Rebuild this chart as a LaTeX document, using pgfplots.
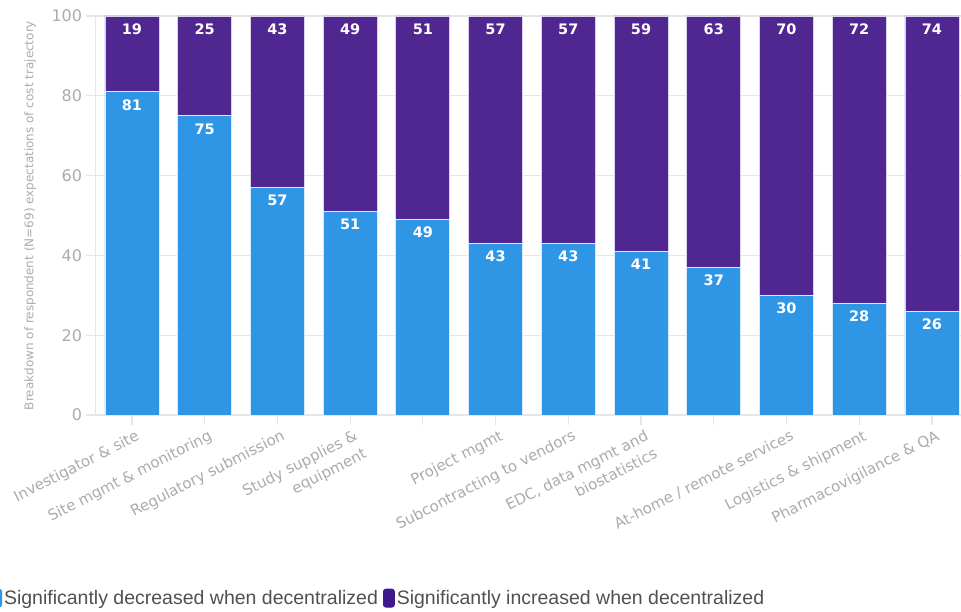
\documentclass[border=0pt]{standalone}
\usepackage{pgfplots}
\usepackage{pgfplotstable}
\pgfplotsset{compat=1.18}
\usepackage{fontspec}
\setmainfont{DejaVu Sans}
\newfontfamily\legfont{Liberation Sans}
\definecolor{barblue}{HTML}{2F96E6}
\definecolor{barpurple}{HTML}{502691}
\definecolor{legpurple}{HTML}{3F1A8E}
\definecolor{gridc}{HTML}{E6E6E6}
\definecolor{labc}{HTML}{ABABAB}
\definecolor{legtext}{HTML}{505050}
\pgfplotstableread{
x dec inc
0 81 19
1 75 25
2 57 43
3 51 49
4 49 51
5 43 57
6 43 57
7 41 59
8 37 63
9 30 70
10 28 72
11 26 74
}\data
\begin{document}
\begin{tikzpicture}
\path[use as bounding box] (0pt,0pt) rectangle (961pt,612pt);
\begin{axis}[
  at={(95.6pt,197pt)}, anchor=south west,
  scale only axis, width=865.4pt, height=399pt,
  ybar stacked, bar width=54pt,
  xmin=-0.5, xmax=11.4, ymin=0, ymax=100,
  ytick={0,20,...,100}, xtick={0,...,11},
  xticklabels={Investigator \& site, Site mgmt \& monitoring, Regulatory submission, {Study supplies \&\\equipment}, {}, Project mgmt, Subcontracting to vendors, {EDC, data mgmt and\\biostatistics}, {}, At-home / remote services, Logistics \& shipment, Pharmacovigilance \& QA},
  axis x line*=bottom, axis y line*=left,
  axis line style={-, draw=gridc, line width=1.2pt},
  ymajorgrids, grid style={draw=gridc, line width=1.2pt},
  major tick length=10pt, tick align=outside,
  tick style={draw=gridc, line width=1.2pt},
  /pgf/number format/assume math mode=true,
  yticklabel style={font=\fontsize{16}{19}\selectfont, text=labc},
  xticklabel style={font=\fontsize{15}{20}\selectfont, text=labc, rotate=27, anchor=north east, align=right, inner sep=2pt, xshift=3pt, yshift=-3pt},
  ylabel={Breakdown of respondent (N=69) expectations of cost trajectory},
  ylabel style={font=\fontsize{12}{14}\selectfont, text=labc, at={(axis description cs:-0.0758,0.5)}, anchor=center},
  nodes near coords, point meta=explicit,
  every node near coord/.append style={anchor=north, shift={(axis direction cs:0,\halfh)}, yshift=-4pt, text=white, font=\bfseries\fontsize{14.5}{17}\selectfont},
  legend style={at={(axis description cs:-0.122,-0.459)}, anchor=west, draw=none, fill=none,
    font=\legfont\fontsize{19.5}{22}\selectfont, text=legtext, legend columns=2,
    /tikz/every even column/.append style={column sep=3pt}, inner sep=0pt},
]
\addplot[fill=barblue, draw=white!80!barblue, line width=0.8pt,
  visualization depends on={\thisrow{dec}/2 \as \halfh},
  legend image code/.code={\fill[barblue, rounded corners=2.5pt] (-1pt,-9pt) rectangle (10pt,9pt);}]
  table[x=x, y=dec, meta=dec] {\data};
\addlegendentry{Significantly decreased when decentralized}
\addplot[fill=barpurple, draw=white!80!barpurple, line width=0.8pt,
  visualization depends on={\thisrow{inc}/2 \as \halfh},
  legend image code/.code={\fill[legpurple, rounded corners=2.5pt] (-1pt,-9pt) rectangle (10pt,9pt);}]
  table[x=x, y=inc, meta=inc] {\data};
\addlegendentry{Significantly increased when decentralized}
\end{axis}
\end{tikzpicture}
\end{document}
